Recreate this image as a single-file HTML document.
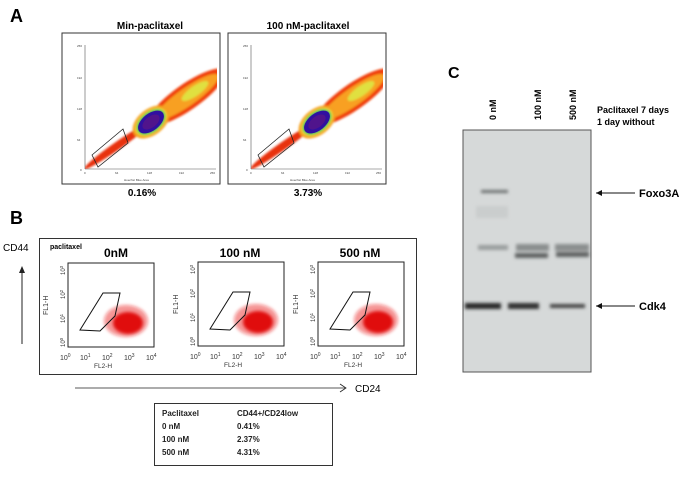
<!DOCTYPE html>
<html><head><style>
body{margin:0;background:#fff;}
svg{display:block;font-family:"Liberation Sans",Arial,sans-serif;}
</style></head><body>
<svg width="700" height="478" viewBox="0 0 700 478">
<defs>
<filter id="bl"><feGaussianBlur stdDeviation="1.5"/></filter>
<filter id="bl2"><feGaussianBlur stdDeviation="1"/></filter>
<clipPath id="cpA"><rect x="23" y="12" width="132" height="124"/></clipPath>
<g id="flowA">
  <rect x="0" y="0" width="158" height="151" fill="#fff" stroke="#333" stroke-width="1"/>
  <line x1="23" y1="12" x2="23" y2="136" stroke="#555" stroke-width="0.6"/>
  <line x1="23" y1="136" x2="154" y2="136" stroke="#555" stroke-width="0.6"/>
  <g font-size="3" fill="#444">
    <text x="15" y="14">256</text><text x="15" y="46">192</text><text x="15" y="77">128</text><text x="15" y="108">64</text><text x="18" y="138">0</text>
    <text x="22" y="141">0</text><text x="53" y="141">64</text><text x="85" y="141">128</text><text x="117" y="141">192</text><text x="148" y="141">256</text>
    <text x="62" y="148">Hoechst Blue Area</text>
  </g>
  <g clip-path="url(#cpA)">
  <g filter="url(#bl2)">
    <ellipse cx="125" cy="64" rx="46" ry="13" transform="rotate(-35 125 64)" fill="#f04010"/>
    <ellipse cx="55" cy="113" rx="40" ry="4" transform="rotate(-35 55 113)" fill="#e8300c"/>
    <ellipse cx="125" cy="64" rx="38" ry="9" transform="rotate(-35 125 64)" fill="#f8a020"/>
    <ellipse cx="133" cy="58" rx="16" ry="5" transform="rotate(-35 133 58)" fill="#e0e040"/>
    <ellipse cx="89" cy="89" rx="21" ry="13" transform="rotate(-38 89 89)" fill="#f5a020"/>
    <ellipse cx="89" cy="89" rx="18" ry="11" transform="rotate(-38 89 89)" fill="#f0e030"/>
    <ellipse cx="89" cy="89" rx="16.5" ry="10" transform="rotate(-38 89 89)" fill="#30c060"/>
  </g>
  <ellipse cx="89" cy="89" rx="15" ry="8.5" transform="rotate(-38 89 89)" fill="#3010a0"/>
  <ellipse cx="89" cy="89" rx="10" ry="5.5" transform="rotate(-38 89 89)" fill="#50148c"/>
  </g>
</g>
<g id="flowB">
  <rect x="0" y="0" width="86" height="84" fill="#fff" stroke="#222" stroke-width="1"/>
  <g filter="url(#bl)">
    <ellipse cx="58" cy="58" rx="22" ry="16" fill="#e81010" opacity="0.45"/>
    <ellipse cx="60" cy="60" rx="15" ry="11" fill="#e01010"/>
  </g>
  <polygon points="12,67 35,30 52,30 47,53 32,68" fill="none" stroke="#111" stroke-width="1"/>
  <g font-size="7" fill="#333">
    <text x="-20" y="52" transform="rotate(-90 -20 52)" font-size="7">FL1-H</text>
    <text x="-8" y="97">10<tspan font-size="5" dy="-3">0</tspan></text>
    <text x="12" y="97">10<tspan font-size="5" dy="-3">1</tspan></text>
    <text x="34" y="97">10<tspan font-size="5" dy="-3">2</tspan></text>
    <text x="56" y="97">10<tspan font-size="5" dy="-3">3</tspan></text>
    <text x="78" y="97">10<tspan font-size="5" dy="-3">4</tspan></text>
    <text x="26" y="105" font-size="6.5">FL2-H</text>
    <g font-size="6">
    <text transform="translate(-3,84) rotate(-90)">10<tspan font-size="4.5" dy="-2">0</tspan></text>
    <text transform="translate(-3,60) rotate(-90)">10<tspan font-size="4.5" dy="-2">1</tspan></text>
    <text transform="translate(-3,36) rotate(-90)">10<tspan font-size="4.5" dy="-2">2</tspan></text>
    <text transform="translate(-3,12) rotate(-90)">10<tspan font-size="4.5" dy="-2">3</tspan></text>
    </g>
  </g>
</g>
</defs>

<!-- Panel A -->
<text x="10" y="22" font-size="18" font-weight="bold">A</text>
<text x="150" y="29" font-size="10" font-weight="bold" text-anchor="middle">Min-paclitaxel</text>
<text x="308" y="29" font-size="10" font-weight="bold" text-anchor="middle">100 nM-paclitaxel</text>
<use href="#flowA" x="62" y="33"/>
<use href="#flowA" x="228" y="33"/>
<polygon points="92,155 123,129 128,143 98,167" fill="none" stroke="#222" stroke-width="0.8"/>
<polygon points="258,155 289,129 294,143 264,167" fill="none" stroke="#222" stroke-width="0.8"/>
<text x="142" y="196" font-size="10" font-weight="bold" text-anchor="middle">0.16%</text>
<text x="308" y="196" font-size="10" font-weight="bold" text-anchor="middle">3.73%</text>

<!-- Panel B -->
<text x="10" y="224" font-size="18" font-weight="bold">B</text>
<text x="3" y="251" font-size="10">CD44</text>
<line x1="22" y1="344" x2="22" y2="272" stroke="#222" stroke-width="1"/>
<polygon points="19,273 25,273 22,266" fill="#222"/>
<rect x="39.5" y="238.5" width="377" height="136" fill="#fff" stroke="#333" stroke-width="1"/>
<text x="50" y="249" font-size="7" font-weight="bold">paclitaxel</text>
<text x="116" y="257" font-size="12" font-weight="bold" text-anchor="middle">0nM</text>
<text x="240" y="257" font-size="12" font-weight="bold" text-anchor="middle">100 nM</text>
<text x="360" y="257" font-size="12" font-weight="bold" text-anchor="middle">500 nM</text>
<use href="#flowB" x="68" y="263"/>
<use href="#flowB" x="198" y="262"/>
<use href="#flowB" x="318" y="262"/>
<line x1="75" y1="388" x2="345" y2="388" stroke="#222" stroke-width="0.8"/>
<polyline points="340,384 346,388 340,392" fill="none" stroke="#222" stroke-width="0.8"/>
<text x="355" y="392" font-size="10">CD24</text>
<rect x="154.5" y="403.5" width="178" height="62" fill="#fff" stroke="#333" stroke-width="1"/>
<g font-size="8" font-weight="bold" fill="#222">
<text x="162" y="416">Paclitaxel</text><text x="237" y="416">CD44+/CD24low</text>
<text x="162" y="429">0 nM</text><text x="237" y="429">0.41%</text>
<text x="162" y="442">100 nM</text><text x="237" y="442">2.37%</text>
<text x="162" y="455">500 nM</text><text x="237" y="455">4.31%</text>
</g>

<!-- Panel C -->
<text x="448" y="78" font-size="16" font-weight="bold">C</text>
<g font-size="9" font-weight="bold">
<text x="0" y="0" transform="translate(496,120) rotate(-90)">0 nM</text>
<text x="0" y="0" transform="translate(541,120) rotate(-90)">100 nM</text>
<text x="0" y="0" transform="translate(576,120) rotate(-90)">500 nM</text>
<text x="597" y="113">Paclitaxel 7 days</text>
<text x="597" y="125">1 day without</text>
</g>
<rect x="463" y="130" width="128" height="242" fill="#d6d9d9" stroke="#555" stroke-width="1"/>
<g filter="url(#bl)">
<rect x="481" y="190" width="27" height="3" fill="#6a6e6e"/>
<rect x="476" y="206" width="32" height="12" fill="#cacdcd"/>
<rect x="478" y="245" width="30" height="5" fill="#9a9e9e"/>
<rect x="516" y="244" width="33" height="7" fill="#8a8e8e"/>
<rect x="515" y="253" width="33" height="5" fill="#5e6262"/>
<rect x="555" y="244" width="34" height="7" fill="#8a8e8e"/>
<rect x="556" y="252" width="33" height="5" fill="#5e6262"/>
<rect x="465" y="303" width="36" height="6" fill="#2a2a2a"/>
<rect x="508" y="303" width="31" height="6" fill="#303030"/>
<rect x="550" y="304" width="35" height="4" fill="#444"/>
</g>
<line x1="596" y1="193" x2="635" y2="193" stroke="#111" stroke-width="1"/>
<polygon points="596,193 602,190 602,196" fill="#111"/>
<text x="639" y="197" font-size="11" font-weight="bold">Foxo3A</text>
<line x1="596" y1="306" x2="635" y2="306" stroke="#111" stroke-width="1"/>
<polygon points="596,306 602,303 602,309" fill="#111"/>
<text x="639" y="310" font-size="11" font-weight="bold">Cdk4</text>
</svg>
</body></html>
